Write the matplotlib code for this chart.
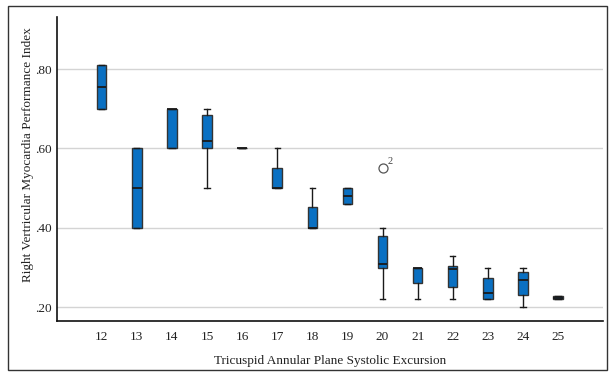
import matplotlib
matplotlib.use("Agg")
import matplotlib.pyplot as plt
from matplotlib.patches import Rectangle

# ---- data ----
tapse = [12, 13, 14, 15, 16, 17, 18, 19, 20, 21, 22, 23, 24, 25]
whislo = [0.70, 0.40, 0.60, 0.50, 0.60, 0.50, 0.40, 0.46, 0.22, 0.22, 0.22, 0.22, 0.20, 0.22]
q1 = [0.70, 0.40, 0.60, 0.60, 0.60, 0.50, 0.40, 0.46, 0.30, 0.26, 0.25, 0.22, 0.23, 0.22]
med = [0.755, 0.50, 0.70, 0.62, 0.60, 0.50, 0.40, 0.48, 0.31, 0.30, 0.297, 0.237, 0.27, 0.224]
q3 = [0.81, 0.60, 0.70, 0.683, 0.60, 0.55, 0.453, 0.50, 0.38, 0.30, 0.303, 0.275, 0.29, 0.229]
whishi = [0.81, 0.60, 0.70, 0.70, 0.60, 0.60, 0.50, 0.50, 0.40, 0.30, 0.33, 0.30, 0.30, 0.229]
outlier_x = [20]
outlier_y = [0.55]
outlier_label = ["2"]
yticks = [0.20, 0.40, 0.60, 0.80]
ytick_labels = [".20", ".40", ".60", ".80"]
xlabel = "Tricuspid Annular Plane Systolic Excursion"
ylabel = "Right Vertricular Myocardia Performance Index"

plt.rcParams['font.family'] = ['Liberation Serif', 'DejaVu Serif']

fig = plt.figure(figsize=(6.15, 3.74), dpi=100)
ax = fig.add_axes([57/615, 1-321/374, (603-57)/615, (321-17)/374])

stats = []
for i, x in enumerate(tapse):
    fl = [y for ox, y in zip(outlier_x, outlier_y) if ox == x]
    stats.append(dict(whislo=whislo[i], q1=q1[i], med=med[i], q3=q3[i],
                      whishi=whishi[i], fliers=fl))

ax.bxp(stats, positions=tapse, widths=0.27, patch_artist=True, showfliers=True,
       boxprops=dict(facecolor='#0a70c2', edgecolor='#333333', linewidth=1.0),
       medianprops=dict(color='#1a1a1a', linewidth=1.3),
       whiskerprops=dict(color='#1a1a1a', linewidth=1.0),
       capprops=dict(color='#1a1a1a', linewidth=1.0),
       capwidths=0.15,
       flierprops=dict(marker='o', markersize=6.5, markerfacecolor='none',
                       markeredgecolor='#555555', markeredgewidth=0.9),
       zorder=3)

for ox, oy, lab in zip(outlier_x, outlier_y, outlier_label):
    ax.annotate(lab, (ox, oy), xytext=(3.5, 1.5), textcoords='offset points',
                fontsize=7.5, color='#444444', va='bottom', ha='left')

ax.set_xlim(10.727, 26.28)
ax.set_ylim(0.1655, 0.931)
ax.set_yticks(yticks)
ax.set_yticklabels(ytick_labels)
ax.set_xticks(tapse)
ax.set_xticklabels([str(t) for t in tapse])
ax.grid(axis='y', color='#d4d4d4', linewidth=1.0, zorder=0)
ax.set_axisbelow(True)
ax.tick_params(axis='both', length=0, labelsize=9.5, colors='#222222')
ax.tick_params(axis='x', pad=7)
ax.tick_params(axis='y', pad=4)
for s in ['top', 'right']:
    ax.spines[s].set_visible(False)
for s in ['left', 'bottom']:
    ax.spines[s].set_color('#111111')
    ax.spines[s].set_linewidth(1.2)

ax.set_xlabel(xlabel, fontsize=9.5, color='#222222', labelpad=9)
fig.text(28/615, 1-155/374, ylabel, rotation=90, fontsize=9.5, color='#222222',
         ha='center', va='center')

fig.patches.append(Rectangle((8/615, 4/374), 1-16/615, 1-10/374,
                             transform=fig.transFigure, fill=False,
                             edgecolor='#333333', linewidth=1.0))

fig.savefig('out.png', dpi=100)
